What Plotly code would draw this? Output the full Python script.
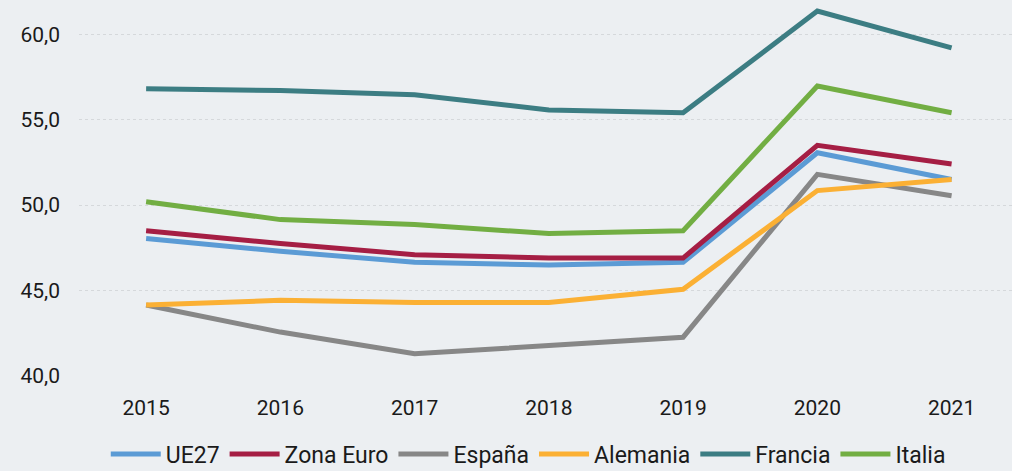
import plotly.graph_objects as go

years = ["2015", "2016", "2017", "2018", "2019", "2020", "2021"]
ue27 = [48.05, 47.3, 46.65, 46.5, 46.65, 53.06, 51.5]
zona_euro = [48.5, 47.75, 47.1, 46.9, 46.9, 53.5, 52.4]
espana = [44.15, 42.57, 41.3, 41.75, 42.27, 51.8, 50.55]
alemania = [44.15, 44.43, 44.3, 44.3, 45.07, 50.85, 51.5]
francia = [56.8, 56.7, 56.45, 55.57, 55.4, 61.35, 59.2]
italia = [50.2, 49.15, 48.86, 48.34, 48.5, 56.97, 55.4]

series = [
    ("UE27", ue27, "#5B9BD5"),
    ("Zona Euro", zona_euro, "#A51E44"),
    ("España", espana, "#878787"),
    ("Alemania", alemania, "#FBB034"),
    ("Francia", francia, "#3C7D83"),
    ("Italia", italia, "#72AE43"),
]

fig = go.Figure()
for name, vals, color in series:
    fig.add_trace(go.Scatter(x=years, y=vals, name=name, mode="lines",
                             line=dict(color=color, width=5)))

font_family = "Roboto, Arial"
fig.update_layout(
    width=1012, height=471,
    paper_bgcolor="#ECEFF2", plot_bgcolor="#ECEFF2",
    margin=dict(l=79, r=0, t=0, b=95, autoexpand=False),
    font=dict(family=font_family, size=21, color="#1a1a1a"),
    xaxis=dict(type="category", showgrid=False, zeroline=False, showline=False,
               ticks="", tickfont=dict(size=21), range=[-0.5, 6.45],
               ticklabelstandoff=17),
    yaxis=dict(range=[40, 62], tickvals=[40, 45, 50, 55, 60],
               ticktext=["40,0", "45,0", "50,0", "55,0", "60,0"],
               showgrid=True, gridcolor="#D5D8DB", griddash="dot", gridwidth=1,
               zeroline=False, showline=False, ticks="", ticklabelstandoff=18,
               tickfont=dict(size=21)),
    legend=dict(orientation="h", x=0.522, xanchor="center", xref="container",
                y=0.036, yanchor="middle", yref="container",
                font=dict(size=23), itemwidth=50, tracegroupgap=0,
                bgcolor="rgba(0,0,0,0)"),
    showlegend=True,
)
fig.write_html("out.html", config={"displayModeBar": False},
               post_script="document.body.style.margin='0';document.body.style.padding='0';document.body.style.background='#ECEFF2';")
